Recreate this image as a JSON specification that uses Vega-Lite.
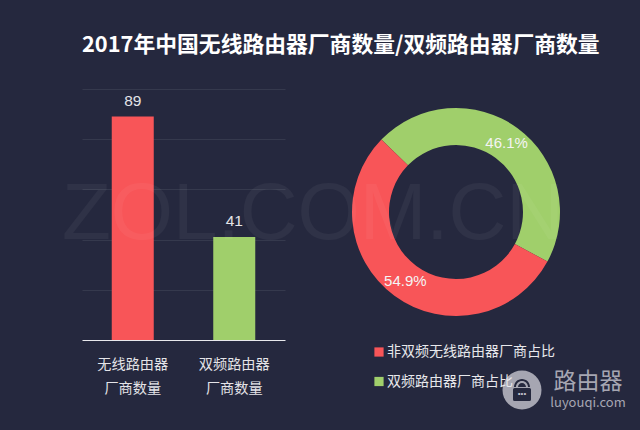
{"$schema":"https://vega.github.io/schema/vega-lite/v6.json","background":"#25283e","padding":{"left":61,"top":34,"right":30,"bottom":30},"bounds":"flush","spacing":20,"resolve":{"scale":{"color":"independent"},"legend":{"color":"independent"}},"title":{"text":"2017年中国无线路由器厂商数量/双频路由器厂商数量","anchor":"start","frame":"group","color":"#ffffff","font":"Noto Sans CJK SC","fontSize":21.8,"fontWeight":"bold","offset":32.5,"dx":0},"config":{"view":{"stroke":null},"font":"Noto Sans CJK SC"},"hconcat":[{"width":203,"height":251,"data":{"values":[{"name":"无线路由器\n厂商数量","count":89},{"name":"双频路由器\n厂商数量","count":41}]},"layer":[{"mark":{"type":"bar","size":42},"encoding":{"x":{"field":"name","type":"nominal","sort":null,"title":null,"axis":{"labelExpr":"split(datum.label,'\\n')","labelAngle":0,"labelColor":"#e4e4e8","labelFontSize":14.2,"labelLineHeight":24.5,"labelPadding":17,"ticks":false,"domainColor":"#e8e8ec","domainWidth":1.2,"labelLimit":200,"zindex":1}},"y":{"field":"count","type":"quantitative","title":null,"scale":{"domain":[0,100]},"axis":{"values":[20,40,60,80,100],"labels":false,"ticks":false,"domain":false,"gridColor":"#3a3d52","gridWidth":0.8,"grid":true}},"color":{"field":"name","type":"nominal","legend":null,"scale":{"range":["#f85558","#a0cf6b"]},"sort":null}}},{"mark":{"type":"text","baseline":"bottom","dy":-8,"fontSize":15.5,"font":"Liberation Sans","color":"#e4e4e8"},"encoding":{"x":{"field":"name","type":"nominal","sort":null},"y":{"field":"count","type":"quantitative"},"text":{"field":"count","type":"quantitative"}}}]},{"width":302,"height":246,"data":{"values":[{"name":"双频路由器厂商占比","share":46.1,"rank":1,"label":"46.1%"},{"name":"非双频无线路由器厂商占比","share":54.9,"rank":2,"label":"54.9%"}]},"layer":[{"mark":{"type":"arc","outerRadius":104,"innerRadius":67},"encoding":{"theta":{"field":"share","type":"quantitative","stack":true,"scale":{"range":[-0.8,5.483]}},"order":{"field":"rank"},"color":{"field":"name","type":"nominal","scale":{"domain":["非双频无线路由器厂商占比","双频路由器厂商占比"],"range":["#f85558","#a0cf6b"]},"legend":{"orient":"none","legendX":67,"legendY":256,"title":null,"symbolType":"square","symbolSize":85,"symbolStrokeWidth":0,"labelColor":"#e8e8ec","labelFontSize":14,"labelOffset":1,"rowPadding":15.5,"labelLimit":300,"padding":0}}}},{"mark":{"type":"text","radius":85.5,"fontSize":15,"font":"Liberation Sans","color":"#f4f4f4"},"encoding":{"theta":{"field":"share","type":"quantitative","stack":true,"scale":{"range":[-0.8,5.483]}},"order":{"field":"rank"},"text":{"field":"label"}}},{"data":{"values":[{"mark":"ZOL.COM.CN"}]},"mark":{"type":"text","fontSize":80,"font":"Liberation Sans","color":"#ffffff","opacity":0.045,"dx":-143,"dy":3},"encoding":{"text":{"field":"mark"}}},{"data":{"values":[{"mark":"logo"}]},"mark":{"type":"point","shape":"circle","size":1520,"filled":true,"color":"#aaaab6","opacity":0.97,"xOffset":66,"yOffset":178},"encoding":{}},{"data":{"values":[{"mark":"icon"}]},"mark":{"type":"point","shape":"M-0.9 -0.05 Q-0.9 -0.2 -0.75 -0.2 L0.75 -0.2 Q0.9 -0.2 0.9 -0.05 L0.9 0.95 Q0.9 1.1 0.75 1.1 L-0.75 1.1 Q-0.9 1.1 -0.9 0.95 Z M-0.8 -0.3 A0.8 0.8 0 0 1 0.8 -0.3 L0.6 -0.3 A0.6 0.6 0 0 0 -0.6 -0.3 Z M-0.4 -0.3 A0.4 0.4 0 0 1 0.4 -0.3 Z","size":400,"filled":true,"color":"#25283e","opacity":1,"xOffset":66,"yOffset":178},"encoding":{}},{"data":{"values":[{"mark":"•••"}]},"mark":{"type":"text","fontSize":8,"font":"Liberation Sans","color":"#c4c4ce","dx":66,"dy":182},"encoding":{"text":{"field":"mark"}}},{"data":{"values":[{"mark":"路由器"}]},"mark":{"type":"text","fontSize":23,"color":"#a6a6b2","dx":132,"dy":169.5},"encoding":{"text":{"field":"mark"}}},{"data":{"values":[{"mark":"luyouqi.com"}]},"mark":{"type":"text","fontSize":13,"color":"#a6a6b2","dx":132,"dy":190.5},"encoding":{"text":{"field":"mark"}}}]}]}
